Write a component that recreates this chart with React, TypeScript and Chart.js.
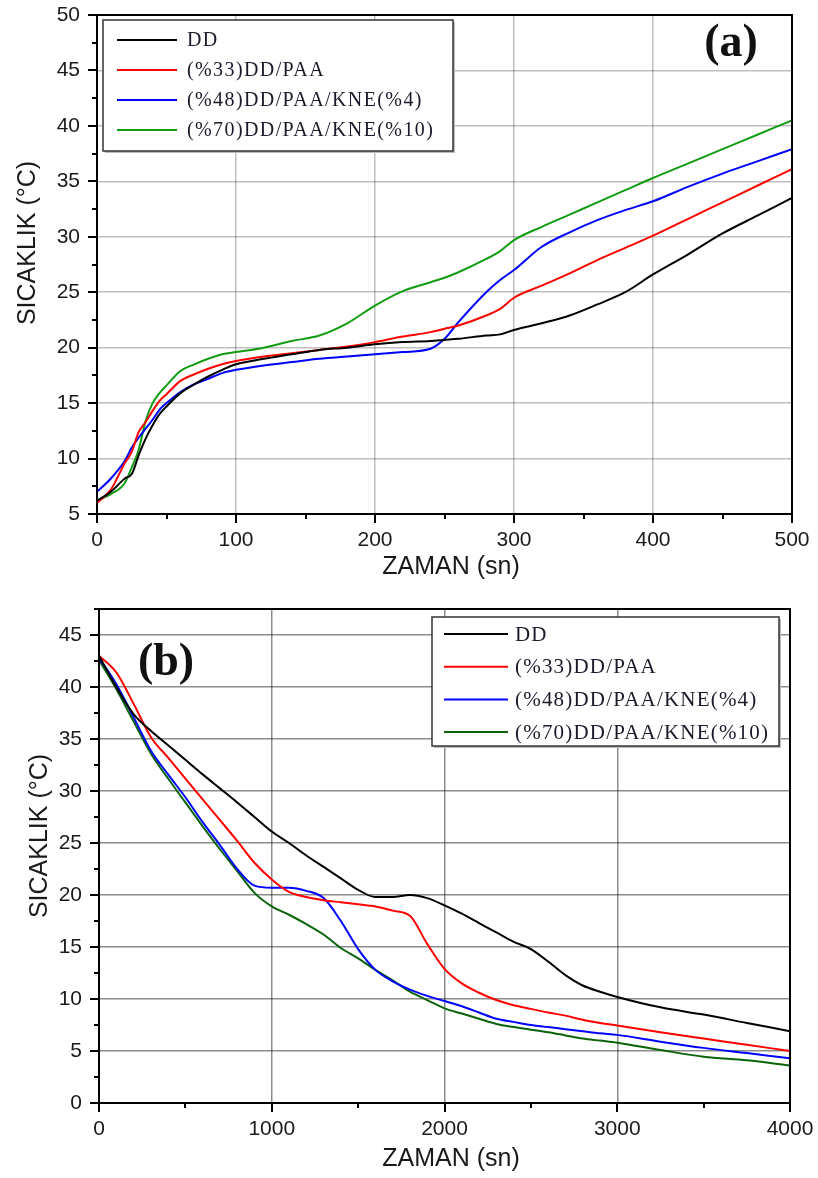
import React, { useEffect, useRef } from "react";
import { Chart, registerables } from "chart.js";

Chart.register(...registerables);

// ---------- Panel (a): heating ----------
const TIME_A = [0, 10, 20, 25, 30, 35, 40, 45, 50, 60, 70, 80, 90, 100, 120, 140, 160, 180, 200, 220, 240, 250, 260, 280, 290, 300, 320, 340, 360, 380, 400, 425, 450, 475, 500];
const DD_A = [6.2, 7.0, 8.2, 8.6, 10.3, 11.8, 13.0, 14.0, 14.7, 15.9, 16.7, 17.4, 18.0, 18.5, 19.0, 19.4, 19.8, 20.0, 20.3, 20.5, 20.6, 20.7, 20.8, 21.1, 21.2, 21.6, 22.2, 22.9, 23.9, 25.0, 26.6, 28.4, 30.3, 31.9, 33.5];
const PAA33_A = [6.0, 7.2, 9.6, 10.6, 12.4, 13.3, 14.3, 15.2, 15.8, 17.0, 17.6, 18.1, 18.5, 18.8, 19.2, 19.5, 19.8, 20.1, 20.5, 21.0, 21.4, 21.7, 22.0, 22.9, 23.5, 24.5, 25.6, 26.7, 27.9, 29.0, 30.1, 31.6, 33.1, 34.6, 36.1];
const KNE4_A = [7.0, 8.2, 9.8, 11.0, 11.9, 12.7, 13.5, 14.4, 15.0, 16.0, 16.7, 17.2, 17.7, 18.0, 18.4, 18.7, 19.0, 19.2, 19.4, 19.6, 19.9, 20.8, 22.3, 25.0, 26.1, 27.0, 29.1, 30.4, 31.5, 32.4, 33.2, 34.5, 35.7, 36.8, 37.9];
const KNE10_A = [6.2, 6.8, 7.8, 9.2, 10.8, 13.4, 15.0, 15.9, 16.6, 17.9, 18.5, 19.0, 19.4, 19.6, 20.0, 20.6, 21.1, 22.2, 23.8, 25.1, 25.9, 26.3, 26.8, 28.0, 28.7, 29.7, 30.9, 32.0, 33.1, 34.2, 35.3, 36.6, 37.9, 39.2, 40.5];
const X_TICKS_A = [0, 100, 200, 300, 400, 500];
const Y_TICKS_A = [5, 10, 15, 20, 25, 30, 35, 40, 45, 50];

// ---------- Panel (b): cooling ----------
const TIME_B = [0, 100, 200, 300, 400, 500, 600, 700, 800, 900, 1000, 1100, 1200, 1300, 1400, 1500, 1600, 1700, 1800, 1900, 2000, 2100, 2200, 2300, 2400, 2500, 2600, 2700, 2800, 2900, 3000, 3250, 3500, 3750, 4000];
const DD_B = [43.0, 40.0, 37.4, 35.8, 34.4, 33.0, 31.6, 30.25, 28.9, 27.5, 26.1, 25.0, 23.8, 22.7, 21.6, 20.5, 19.8, 19.8, 20.0, 19.7, 19.0, 18.2, 17.3, 16.4, 15.5, 14.8, 13.6, 12.3, 11.3, 10.7, 10.2, 9.2, 8.5, 7.7, 6.9];
const PAA33_B = [43.0, 41.4, 38.4, 35.2, 33.2, 31.2, 29.2, 27.2, 25.2, 23.1, 21.5, 20.3, 19.8, 19.5, 19.3, 19.1, 18.9, 18.5, 18.0, 15.3, 12.9, 11.5, 10.6, 9.9, 9.4, 9.05, 8.7, 8.4, 8.0, 7.7, 7.45, 6.8, 6.2, 5.6, 5.0];
const KNE4_B = [42.8, 40.3, 37.1, 33.9, 31.6, 29.4, 27.0, 24.8, 22.5, 20.9, 20.7, 20.7, 20.4, 19.7, 17.5, 14.8, 12.8, 11.7, 10.9, 10.3, 9.8, 9.3, 8.7, 8.1, 7.8, 7.5, 7.3, 7.1, 6.9, 6.7, 6.55, 5.9, 5.3, 4.8, 4.3];
const KNE10_B = [42.6, 39.8, 36.7, 33.6, 31.2, 28.9, 26.6, 24.4, 22.3, 20.2, 18.9, 18.1, 17.2, 16.2, 14.9, 13.9, 12.8, 11.8, 10.7, 9.9, 9.1, 8.6, 8.1, 7.6, 7.3, 7.05, 6.8, 6.5, 6.2, 6.0, 5.8, 5.1, 4.45, 4.1, 3.6];
const X_TICKS_B = [0, 1000, 2000, 3000, 4000];
const Y_TICKS_B = [0, 5, 10, 15, 20, 25, 30, 35, 40, 45];

const SERIES_LABELS = ["DD", "(%33)DD/PAA", "(%48)DD/PAA/KNE(%4)", "(%70)DD/PAA/KNE(%10)"];
const X_TITLE = "ZAMAN (sn)";
const Y_TITLE = "SICAKLIK (°C)";

const SANS = '"Liberation Sans", Arial, sans-serif';
const SERIF = '"Liberation Serif", "Times New Roman", serif';

const framePlugin = {
  id: "frame",
  afterDraw(chart: any, _args: any, opts: any) {
    const { ctx, chartArea: a, scales } = chart;
    const xs = scales.x;
    const ys = scales.y;
    ctx.save();
    // outward ticks
    ctx.strokeStyle = "#000";
    ctx.lineWidth = 2;
    ctx.beginPath();
    const isMajor = (v: number, step: number) => Math.abs(v / step - Math.round(v / step)) < 1e-6;
    for (let v = xs.min; v <= xs.max + 1e-9; v += opts.xMinor) {
      const px = Math.round(xs.getPixelForValue(v));
      ctx.moveTo(px, a.bottom);
      ctx.lineTo(px, a.bottom + (isMajor(v, opts.xMajor) ? 9 : 5));
    }
    for (let v = ys.min; v <= ys.max + 1e-9; v += opts.yMinor) {
      const py = Math.round(ys.getPixelForValue(v));
      ctx.moveTo(a.left, py);
      ctx.lineTo(a.left - (isMajor(v, opts.yMajor) ? 9 : 5), py);
    }
    ctx.stroke();
    // frame
    ctx.lineWidth = 2;
    ctx.strokeRect(a.left, a.top, a.right - a.left, a.bottom - a.top);

    // legend box
    const L = opts.legend;
    const lx = a.left + L.dx;
    const ly = a.top + L.dy;
    ctx.fillStyle = "#bbb";
    ctx.fillRect(lx + 2, ly + 2, L.w, L.h);
    ctx.fillStyle = "#fff";
    ctx.fillRect(lx, ly, L.w, L.h);
    ctx.strokeStyle = "#333";
    ctx.lineWidth = 1.5;
    ctx.strokeRect(lx, ly, L.w, L.h);
    ctx.font = `${L.size}px ${SERIF}`;
    ctx.textBaseline = "middle";
    ctx.textAlign = "left";
    (ctx as any).letterSpacing = `${L.spacing}px`;
    chart.data.datasets.forEach((ds: any, i: number) => {
      const ry = ly + L.row0 + i * L.gap;
      ctx.strokeStyle = ds.borderColor;
      ctx.lineWidth = 2;
      ctx.beginPath();
      ctx.moveTo(lx + L.lineX0, ry);
      ctx.lineTo(lx + L.lineX1, ry);
      ctx.stroke();
      ctx.fillStyle = "#1a1a2a";
      ctx.fillText(ds.label, lx + L.textX, ry + 1);
    });
    (ctx as any).letterSpacing = "0px";

    // panel label
    const P = opts.panel;
    ctx.font = `bold ${P.size}px ${SERIF}`;
    ctx.fillStyle = "#111";
    ctx.textAlign = "center";
    ctx.textBaseline = "middle";
    const plx = P.fromRight ? a.right - P.dx : a.left + P.dx;
    ctx.fillText(P.text, plx, a.top + P.dy);

    // axis titles
    ctx.font = `25px ${SANS}`;
    ctx.fillStyle = "#1a1a1a";
    ctx.textAlign = "center";
    ctx.textBaseline = "middle";
    ctx.fillText(X_TITLE, opts.xTitle.x, opts.xTitle.y);
    ctx.save();
    ctx.translate(opts.yTitle.x, opts.yTitle.y);
    ctx.rotate(-Math.PI / 2);
    ctx.fillText(Y_TITLE, 0, 0);
    ctx.restore();

    ctx.restore();
  },
};

function buildConfig(p: any) {
  const tickFont = { family: SANS, size: 21 };
  return {
    type: "line",
    data: {
      datasets: p.series.map((s: any, k: number) => ({
        label: SERIES_LABELS[k],
        data: p.time.map((t: number, i: number) => ({ x: t, y: s.values[i] })),
        borderColor: s.color,
        borderWidth: 2,
        pointRadius: 0,
        fill: false,
        cubicInterpolationMode: "monotone",
      })),
    },
    options: {
      responsive: false,
      animation: false,
      devicePixelRatio: 1,
      layout: { autoPadding: false, padding: { top: p.padTop, right: p.padRight, left: 0, bottom: 0 } },
      plugins: {
        legend: { display: false },
        tooltip: { enabled: false },
        frame: p.frame,
      },
      scales: {
        x: {
          type: "linear",
          min: p.xMin,
          max: p.xMax,
          afterBuildTicks: (s: any) => {
            s.ticks = p.xTicks.map((v: number) => ({ value: v }));
          },
          afterFit: (s: any) => {
            s.height = p.xAxisH;
            s.paddingLeft = 0;
            s.paddingRight = 0;
            s.paddingTop = 0;
            s.paddingBottom = 0;
          },
          grid: { color: p.gridColor, lineWidth: 1.5, drawTicks: false },
          border: { display: false },
          ticks: { padding: 14, font: tickFont, color: "#1a1a1a", maxRotation: 0, autoSkip: false, callback: (v: any) => String(v) },
        },
        y: {
          type: "linear",
          min: p.yMin,
          max: p.yMax,
          afterBuildTicks: (s: any) => {
            s.ticks = p.yTicks.map((v: number) => ({ value: v }));
          },
          afterFit: (s: any) => {
            s.width = p.yAxisW;
            s.paddingLeft = 0;
            s.paddingRight = 0;
            s.paddingTop = 0;
            s.paddingBottom = 0;
          },
          grid: { color: p.gridColor, lineWidth: 1.5, drawTicks: false },
          border: { display: false },
          ticks: { padding: 17, font: tickFont, color: "#1a1a1a", autoSkip: false, callback: (v: any) => String(v) },
        },
      },
    },
    plugins: [framePlugin],
  };
}

const CONFIG_A = {
  time: TIME_A,
  series: [
    { values: DD_A, color: "#000000" },
    { values: PAA33_A, color: "#ff0000" },
    { values: KNE4_A, color: "#0000ff" },
    { values: KNE10_A, color: "#119c11" },
  ],
  xMin: 0, xMax: 500, yMin: 5, yMax: 50,
  xTicks: X_TICKS_A, yTicks: Y_TICKS_A,
  padTop: 15, padRight: 26, xAxisH: 76, yAxisW: 97,
  gridColor: "rgba(0,0,0,0.25)",
  frame: {
    xMinor: 50, xMajor: 100, yMinor: 2.5, yMajor: 5,
    legend: { dx: 6, dy: 5, w: 350, h: 131, row0: 20, gap: 30, lineX0: 14, lineX1: 74, textX: 84, size: 20, spacing: 1.4 },
    panel: { text: "(a)", size: 46, dx: 61, dy: 29, fromRight: true },
    xTitle: { x: 451, y: 567 },
    yTitle: { x: 28, y: 243 },
  },
};

const CONFIG_B = {
  time: TIME_B,
  series: [
    { values: DD_B, color: "#000000" },
    { values: PAA33_B, color: "#ff0000" },
    { values: KNE4_B, color: "#0000ff" },
    { values: KNE10_B, color: "#0b640b" },
  ],
  xMin: 0, xMax: 4000, yMin: 0, yMax: 47.5,
  xTicks: X_TICKS_B, yTicks: Y_TICKS_B,
  padTop: 19, padRight: 28, xAxisH: 75, yAxisW: 99,
  gridColor: "rgba(0,0,0,0.45)",
  frame: {
    xMinor: 500, xMajor: 1000, yMinor: 2.5, yMajor: 5,
    legend: { dx: 333, dy: 8, w: 347, h: 129, row0: 17, gap: 32.7, lineX0: 12, lineX1: 76, textX: 83, size: 21, spacing: 1.2 },
    panel: { text: "(b)", size: 46, dx: 67, dy: 54, fromRight: false },
    xTitle: { x: 451, y: 569 },
    yTitle: { x: 40, y: 246 },
  },
};

function ChartPanel({ cfg, top, height }: { cfg: any; top: number; height: number }) {
  const ref = useRef<HTMLCanvasElement>(null);
  useEffect(() => {
    const chart = new Chart(ref.current as HTMLCanvasElement, buildConfig(cfg) as any);
    return () => chart.destroy();
  }, [cfg]);
  return (
    <canvas
      ref={ref}
      width={818}
      height={height}
      style={{ position: "absolute", left: 0, top, width: 818, height, display: "block" }}
    />
  );
}

export default function App() {
  return (
    <div style={{ position: "absolute", left: 0, top: 0, width: 818, height: 1178, background: "#fff" }}>
      <ChartPanel cfg={CONFIG_A} top={0} height={590} />
      <ChartPanel cfg={CONFIG_B} top={590} height={588} />
    </div>
  );
}
